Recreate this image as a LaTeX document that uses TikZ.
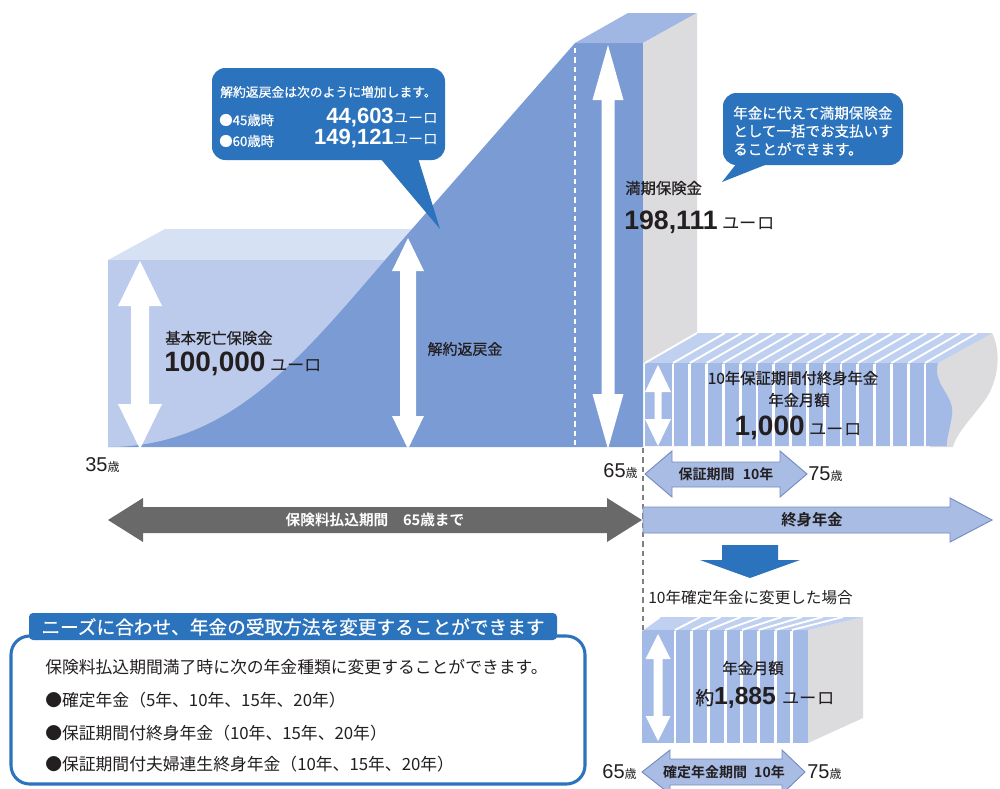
\documentclass[tikz,border=0pt]{standalone}
\usepackage{fontspec}
\setmainfont{Noto Sans CJK JP}[BoldFont={Noto Sans CJK JP Bold}]
\newfontfamily\jpmed{Noto Sans CJK JP}[FakeBold=0.6]
\newfontfamily\numf{Liberation Sans}
\usetikzlibrary{arrows.meta}
\definecolor{dblue}{RGB}{122,155,211}
\definecolor{lfront}{RGB}{188,203,236}
\definecolor{ltop}{RGB}{215,225,244}
\definecolor{ttop}{RGB}{160,182,227}
\definecolor{gside}{RGB}{220,220,222}
\definecolor{sblue}{RGB}{163,186,230}
\definecolor{stop}{RGB}{192,208,240}
\definecolor{cblue}{RGB}{43,115,188}
\definecolor{tdark}{RGB}{35,31,32}
\definecolor{garrow}{RGB}{105,105,105}
\definecolor{larrow}{RGB}{168,188,228}
\definecolor{larrowline}{RGB}{118,140,192}
\newcommand{\myfs}[1]{\fontsize{#1}{#1}\selectfont}
\newcommand{\yuro}[1]{{\rmfamily\mdseries\myfs{#1}ユーロ}}
\newcommand{\wdarrow}[6]{% cx, ytop, ybot, shaft half, head half, head length
  \fill[white] (#1,#2) -- ({#1+#5},{#2+#6}) -- ({#1+#4},{#2+#6}) -- ({#1+#4},{#3-#6}) -- ({#1+#5},{#3-#6}) -- (#1,#3)
   -- ({#1-#5},{#3-#6}) -- ({#1-#4},{#3-#6}) -- ({#1-#4},{#2+#6}) -- ({#1-#5},{#2+#6}) -- cycle;}
\begin{document}
\begin{tikzpicture}[x=0.75pt,y=-0.75pt,
  txt/.style={inner sep=0pt,text=tdark},
  wtxt/.style={inner sep=0pt,text=white},
  lightarrow/.style={fill=larrow,draw=larrowline,line width=0.7pt},
  stripe/.style={white,line width=2.2pt},
  topstripe/.style={white,line width=1.4pt}]
\useasboundingbox (0,0) rectangle (1000,789);
\fill[white] (0,0) rectangle (1000,789);

% ---------- left light block ----------
\fill[ltop] (108,260) -- (165,229) -- (425,229) -- (425,260) -- cycle;
\fill[lfront] (108,260) rectangle (425,447);

% ---------- dark region (surrender value + tall block front) ----------
\fill[dblue] (108,447) .. controls (240,447) and (312,343) .. (412,229) -- (575,43) -- (643,43) -- (643,447) -- cycle;
% tall block top and side
\fill[ttop] (575,43) -- (628,13) -- (697,13) -- (643,43) -- cycle;
\fill[gside] (643,43) -- (697,13) -- (697,333) -- (645,363) -- (643,363) -- cycle;
\draw[white,line width=1.2pt,dash pattern=on 4pt off 3pt] (575,48) -- (575,446);

% ---------- upper striped block ----------
\fill[gside] (930,363) -- (992,333) .. controls (1002,352) and (998,382) .. (985,400) .. controls (972,418) and (957,432) .. (953,447) -- (930,447) -- cycle;
\fill[stop] (645,363) -- (697,333) -- (992,333) -- (938,363) -- cycle;
\fill[sblue] (645,363) -- (938,363) .. controls (932,385) and (955,395) .. (952,415) .. controls (950,430) and (946,440) .. (947,446) -- (645,446) -- cycle;
\foreach \k in {0,...,15} {
  \pgfmathsetmacro{\xx}{673+16.8*\k}
  \draw[stripe] (\xx,364) -- (\xx,446);
  \draw[topstripe] (\xx,363) -- ({\xx+52},333);
}
\draw[topstripe] (645,363) -- (697,333);

% ---------- lower striped block ----------
\fill[gside] (808,630) -- (863,617) -- (863,718) -- (808,743) -- cycle;
\fill[stop] (642,630) -- (660,617) -- (863,617) -- (808,630) -- cycle;
\fill[sblue] (642,630) rectangle (808,743);
\foreach \k in {0,...,7} {
  \pgfmathsetmacro{\xx}{675+16.7*\k}
  \draw[stripe] (\xx,631) -- (\xx,743);
  \draw[topstripe] (\xx,630) -- ({\xx+18+(\xx-642)*0.22},617);
}
\draw[topstripe] (642,630) -- (660,617);

% ---------- white double arrows ----------
\wdarrow{140}{261}{449}{9}{22}{45}
\wdarrow{408}{238}{449}{8}{16}{33}
\wdarrow{608}{45}{449}{6.5}{15.5}{55}
\wdarrow{658}{365}{446}{3.5}{13}{27}
\wdarrow{658}{634}{741}{4.5}{12.5}{25}

% dashed divider
\draw[gray,line width=0.8pt,dash pattern=on 4pt off 3pt] (643,448) -- (643,630);

% ---------- callouts ----------
\fill[cblue,rounded corners=10pt] (212,68) rectangle (445,160);
\fill[cblue] (380,158) -- (418,158) -- (440,229) -- cycle;
\node[wtxt,anchor=west] (c1t) at (220,92) {\jpmed\myfs{9.6}解約返戻金は次のように増加します。};
\node[wtxt,anchor=west] (c1a) at (219,120) {\jpmed\myfs{10}●45歳時};
\node[wtxt,anchor=east] (c1an) at (438,118) {{\numf\bfseries\myfs{16.5}44,603}\yuro{11}};
\node[wtxt,anchor=west] (c1b) at (219,141) {\jpmed\myfs{10}●60歳時};
\node[wtxt,anchor=east] (c1bn) at (438,139) {{\numf\bfseries\myfs{16.5}149,121}\yuro{11}};

\fill[cblue,rounded corners=10pt] (723,93) rectangle (903,165);
\fill[cblue] (737,163) -- (770,163) -- (722,182) -- cycle;
\node[wtxt,anchor=west] (c2a) at (733,113) {\jpmed\myfs{10.9}年金に代えて満期保険金};
\node[wtxt,anchor=west] (c2b) at (733,131) {\jpmed\myfs{10.9}として一括でお支払いす};
\node[wtxt,anchor=west] (c2c) at (733,149) {\jpmed\myfs{10.9}ることができます。};

% ---------- labels on blocks ----------
\node[txt,anchor=west] (mk) at (625,188) {\jpmed\myfs{11.5}満期保険金};
\node[txt,anchor=west] (mkv) at (624,222) {{\numf\bfseries\myfs{20}198,111}\hspace{0.35em}\yuro{13}};
\node[txt,anchor=west] (kb) at (165,338) {\jpmed\myfs{11.5}基本死亡保険金};
\node[txt,anchor=west] (kbv) at (164,364) {{\numf\bfseries\myfs{21}100,000}\hspace{0.35em}\yuro{13}};
\node[txt] (kh) at (465,349) {\jpmed\myfs{11.2}解約返戻金};

\node[txt] (s1) at (793,378) {\jpmed\myfs{11.5}10年保証期間付終身年金};
\node[txt] (s2) at (799,400) {\jpmed\myfs{11.5}年金月額};
\node[txt] (s3) at (798,428) {{\numf\bfseries\myfs{21}1,000}\hspace{0.35em}\yuro{13}};

\node[txt] (l1) at (753,668) {\jpmed\myfs{11.5}年金月額};
\node[txt] (l2) at (765,698) {\jpmed\myfs{14}約{\numf\bfseries\myfs{18.5}1,885}\hspace{0.35em}\yuro{13}};

% ---------- ages ----------
\node[txt,anchor=west] (a35) at (85,465) {{\numf\myfs{15}35}\myfs{9}歳};
\node[txt,anchor=east] (a65) at (638,471) {{\numf\myfs{15}65}\myfs{9}歳};
\node[txt,anchor=west] (a75) at (808,474) {{\numf\myfs{15}75}\myfs{9}歳};
\node[txt,anchor=east] (b65) at (637,772) {{\numf\myfs{15}65}\myfs{9}歳};
\node[txt,anchor=west] (b75) at (807,772) {{\numf\myfs{15}75}\myfs{9}歳};

% ---------- period arrows ----------
\draw[lightarrow] (645,474) -- (672,451) -- (672,462) -- (780,462) -- (780,451) -- (807,474) -- (780,497) -- (780,487) -- (672,487) -- (672,497) -- cycle;
\node[txt] (hk) at (726,474) {\bfseries\myfs{10.5}保証期間\hspace{0.6em}10年};
\draw[lightarrow] (642,772) -- (670,750) -- (670,759) -- (782,759) -- (782,750) -- (805,772) -- (782,794) -- (782,785) -- (670,785) -- (670,794) -- cycle;
\node[txt] (kk) at (724,772) {\bfseries\myfs{10.5}確定年金期間\hspace{0.5em}10年};

\fill[garrow] (108,520) -- (143,498) -- (143,507) -- (607,507) -- (607,498) -- (642,520) -- (607,542) -- (607,533) -- (143,533) -- (143,542) -- cycle;
\node[wtxt] (gt) at (375,520) {\bfseries\myfs{11}保険料払込期間\hspace{1em}65歳まで};
\draw[lightarrow] (643,507) -- (950,507) -- (950,498) -- (992,520) -- (950,542) -- (950,533) -- (643,533) -- cycle;
\node[txt] (st) at (812,520) {\bfseries\myfs{11.5}終身年金};

\fill[cblue] (722,545) -- (778,545) -- (778,560) -- (800,560) -- (750,578) -- (700,560) -- (722,560) -- cycle;
\node[txt,anchor=west] (hk2) at (648,598) {\myfs{11.7}10年確定年金に変更した場合};

% ---------- bottom info box ----------
\draw[cblue,line width=2.3pt,rounded corners=14pt] (11,636) rectangle (585,784);
\fill[cblue,rounded corners=3pt] (29,613) rectangle (557,640);
\node[wtxt] (bt) at (293,627) {\jpmed\myfs{14}ニーズに合わせ、年金の受取方法を変更することができます};
\node[txt,anchor=west] (b1) at (45,667) {\myfs{12.6}保険料払込期間満了時に次の年金種類に変更することができます。};
\node[txt,anchor=west] (b2) at (45,700) {\myfs{12.6}●確定年金（5年、10年、15年、20年）};
\node[txt,anchor=west] (b3) at (45,733) {\myfs{12.6}●保証期間付終身年金（10年、15年、20年）};
\node[txt,anchor=west] (b4) at (45,764) {\myfs{12.6}●保証期間付夫婦連生終身年金（10年、15年、20年）};
\end{tikzpicture}
\end{document}
